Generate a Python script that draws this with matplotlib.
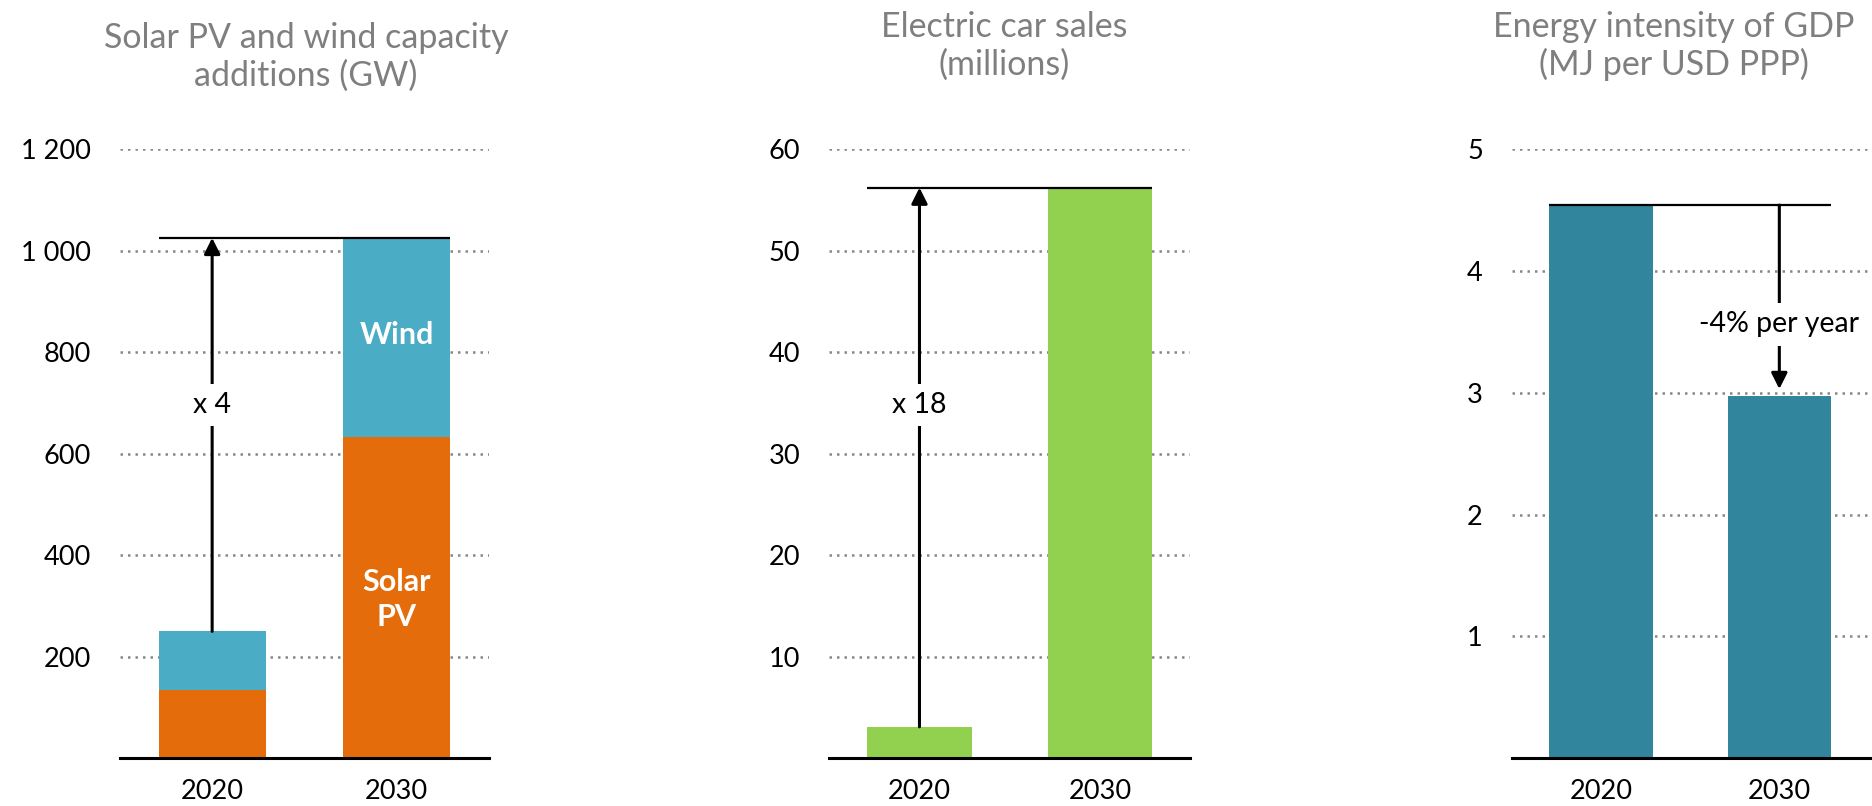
import matplotlib
matplotlib.use("Agg")
import matplotlib.pyplot as plt

plt.rcParams['font.family'] = ['Lato', 'DejaVu Sans']

years = ['2020', '2030']
solar_pv = [135, 632]
wind = [115, 393]
ev_sales = [3.1, 56.2]
intensity = [4.54, 2.97]

cap_ticks = [200, 400, 600, 800, 1000, 1200]
cap_labels = ['200', '400', '600', '800', '1 000', '1 200']
ev_ticks = [10, 20, 30, 40, 50, 60]
int_ticks = [1, 2, 3, 4, 5]

ORANGE = '#E46C0A'
BLUE = '#4BACC6'
GREEN = '#92D050'
TEAL = '#31859C'
GREY = '#7F7F7F'

W, H = 1872, 806
fig = plt.figure(figsize=(W / 100, H / 100), dpi=100)

BOTTOM = 758.3
TOP = 149
BAR_W = 0.58


def make_axes(left, right, xmax=1.5):
    ax = fig.add_axes([left / W, (H - BOTTOM) / H, (right - left) / W, (BOTTOM - TOP) / H])
    ax.set_xlim(-0.5, xmax)
    for s in ['top', 'right', 'left']:
        ax.spines[s].set_visible(False)
    ax.spines['bottom'].set_linewidth(2.2)
    ax.spines['bottom'].set_color('black')
    ax.set_axisbelow(True)
    ax.yaxis.grid(True, color='#888888', linestyle=(0, (1, 2.0)), linewidth=1.8)
    ax.tick_params(axis='y', length=0, pad=21, labelsize=19.5)
    ax.tick_params(axis='x', length=0, pad=15, labelsize=19.5)
    ax.set_xticks([0, 1])
    ax.set_xticklabels(years)
    return ax


def title(x, y, txt):
    fig.text(x / W, 1 - y / H, txt, ha='center', va='center', color=GREY,
             fontsize=24.5, linespacing=1.2)


def arrow(ax, x, y0, y1):
    ax.annotate('', xy=(x, y1), xytext=(x, y0),
                arrowprops=dict(arrowstyle='-|>', lw=2.2, color='black',
                                mutation_scale=24, shrinkA=0, shrinkB=0))


def gap_label(ax, x, y, txt):
    ax.text(x, y, txt, ha='center', va='center', fontsize=20.5,
            bbox=dict(facecolor='white', edgecolor='none', pad=6))


# Panel 1: solar PV and wind capacity additions
ax1 = make_axes(120, 488.6)
ax1.set_ylim(0, 1200)
ax1.set_yticks(cap_ticks)
ax1.set_yticklabels(cap_labels)
ax1.bar([0, 1], solar_pv, width=BAR_W, color=ORANGE)
ax1.bar([0, 1], wind, width=BAR_W, bottom=solar_pv, color=BLUE)
top1 = solar_pv[1] + wind[1]
ax1.hlines(top1, -BAR_W / 2, 1 + BAR_W / 2, color='black', lw=1.6)
arrow(ax1, 0, solar_pv[0] + wind[0], top1)
gap_label(ax1, 0, 696, 'x 4')
ax1.text(1, 833, 'Wind', ha='center', va='center', color='white',
         fontsize=22, fontweight='bold')
ax1.text(1, 312, 'Solar\nPV', ha='center', va='center', color='white',
         fontsize=22, fontweight='bold', linespacing=1.3)
title(306, 57, 'Solar PV and wind capacity\nadditions (GW)')

# Panel 2: electric car sales
ax2 = make_axes(829.3, 1190)
ax2.set_ylim(0, 60)
ax2.set_yticks(ev_ticks)
ax2.bar([0, 1], ev_sales, width=BAR_W, color=GREEN)
ax2.hlines(ev_sales[1], -BAR_W / 2, 1 + BAR_W / 2, color='black', lw=1.6)
arrow(ax2, 0, ev_sales[0], ev_sales[1])
gap_label(ax2, 0, 34.8, 'x 18')
title(1004, 46, 'Electric car sales\n(millions)')

# Panel 3: energy intensity of GDP
ax3 = make_axes(1512, 1872, xmax=1.52)
ax3.set_ylim(0, 5)
ax3.set_yticks(int_ticks)
ax3.bar([0, 1], intensity, width=BAR_W, color=TEAL)
ax3.hlines(intensity[0], -BAR_W / 2, 1 + BAR_W / 2, color='black', lw=1.6)
arrow(ax3, 1, intensity[0], 3.03)
gap_label(ax3, 1, 3.56, '-4% per year')
title(1674, 46, 'Energy intensity of GDP\n(MJ per USD PPP)')

fig.savefig('out.png', dpi=100)
